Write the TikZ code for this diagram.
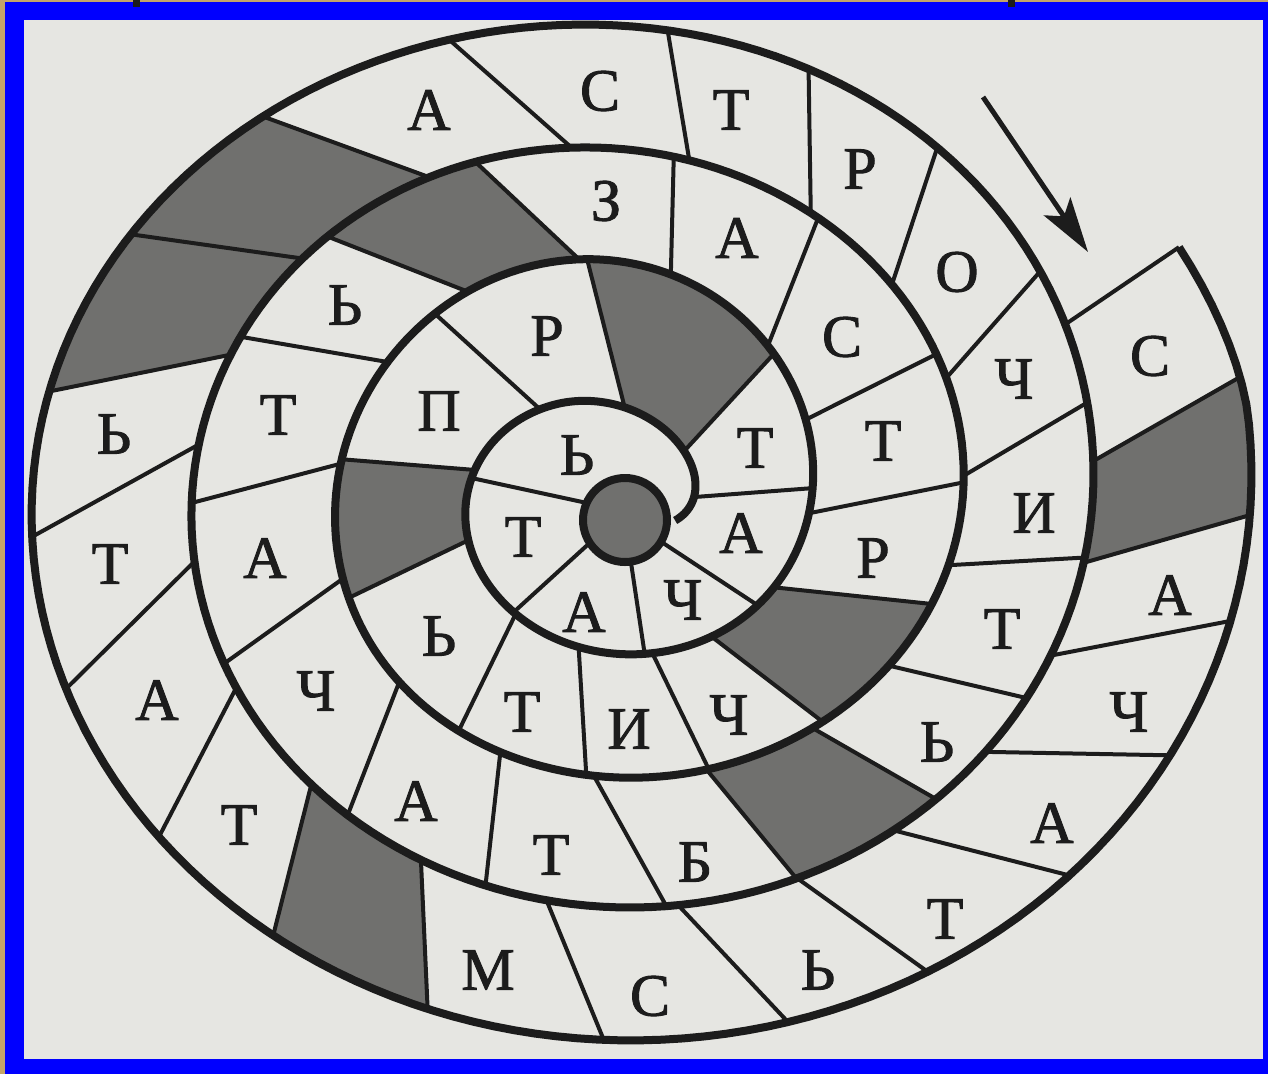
\documentclass[tikz,border=0pt]{standalone}
\usepackage{fontspec}
\setmainfont{Liberation Serif}
\newfontfamily\ltfont{Liberation Serif}[FakeBold=1.5]
\usetikzlibrary{arrows.meta}
\definecolor{bgc}{RGB}{230,230,226}
\definecolor{ink}{RGB}{28,28,28}
\definecolor{shd}{RGB}{112,112,110}
\definecolor{goldbg}{RGB}{196,165,105}
\definecolor{frameblue}{RGB}{0,0,255}
% residual corrections of the hand-drawn spiral (cosine interpolation)
\pgfmathdeclarefunction{resa}{1}{%
  \begingroup
  \pgfmathtruncatemacro\myai{max(0,min(7,floor((#1)/180)))}%
  \pgfmathtruncatemacro\myaj{\myai+1}%
  \pgfmathsetmacro\myaf{max(0,min(1,(#1)/180-\myai))}%
  \pgfmathsetmacro\myaw{(1-cos(180*\myaf))/2}%
  \pgfmathsetmacro\myaA{{0,3.2,-5.1,-8.3,3.4,-6.9,-9.2,10.5,6.3}[\myai]}%
  \pgfmathsetmacro\myaB{{0,3.2,-5.1,-8.3,3.4,-6.9,-9.2,10.5,6.3}[\myaj]}%
  \pgfmathparse{\myaA*(1-\myaw)+\myaB*\myaw}%
  \pgfmathsmuggle\pgfmathresult
  \endgroup}
\pgfmathdeclarefunction{resb}{1}{%
  \begingroup
  \pgfmathtruncatemacro\mybi{max(0,min(6,floor(((#1)-90)/180)))}%
  \pgfmathtruncatemacro\mybj{\mybi+1}%
  \pgfmathsetmacro\mybf{max(0,min(1,((#1)-90)/180-\mybi))}%
  \pgfmathsetmacro\mybw{(1-cos(180*\mybf))/2}%
  \pgfmathsetmacro\mybA{{0.8,2.1,14.4,-3.3,-3,-2.7,-9.4,0.9}[\mybi]}%
  \pgfmathsetmacro\mybB{{0.8,2.1,14.4,-3.3,-3,-2.7,-9.4,0.9}[\mybj]}%
  \pgfmathparse{\mybA*(1-\mybw)+\mybB*\mybw}%
  \pgfmathsmuggle\pgfmathresult
  \endgroup}
\pgfmathdeclarefunction{spa}{1}{\pgfmathparse{66.5+0.396*(#1)+20*max(0,1-(#1)/120)+resa(#1)-25*max(0,((#1)-1448)/18)*sqrt(max(0,((#1)-1448)/18))}}
\pgfmathdeclarefunction{spb}{1}{\pgfmathparse{58.8+0.3595*(#1)+resb(#1)}}
\pgfmathdeclarefunction{spx}{1}{\pgfmathparse{608+spa(#1)*cos(#1)}}
\pgfmathdeclarefunction{spy}{1}{\pgfmathparse{495-spb(#1)*sin(#1)}}
\newcommand\mySh[4]{\fill[shd] plot[domain=#1:#2,samples=16] ({spx(\x)},{spy(\x)}) -- plot[domain=#4:#3,samples=16] ({spx(\x)},{spy(\x)}) -- cycle;}
\newcommand\myDiv[2]{\draw[divline] ({spx(#1)},{spy(#1)}) -- ({spx(#2)},{spy(#2)});}
\newcommand\myCDiv[2]{\draw[divline] ({625+42*cos(#1)},{520-42*sin(#1)}) -- ({spx(#2)},{spy(#2)});}
\tikzset{
  spiralline/.style={draw=ink, line width=8pt, line join=round},
  divline/.style={draw=ink, line width=4pt},
  lt/.style={text=ink, inner sep=0pt, font=\ltfont\fontsize{60}{60}\selectfont},
}
\begin{document}
\begin{tikzpicture}[x=1pt,y=-1pt]
\useasboundingbox (0,0) rectangle (1268,1074);
\fill[goldbg] (0,0) rectangle (1268,1074);
\fill[frameblue] (5,2) rectangle (1268,1074);
\fill[bgc] (24,20) rectangle (1263,1059);
\fill[ink] (133,0) rectangle (140,7);
\fill[ink] (1008,0) rectangle (1015,7);
% shaded cells
\mySh{37}{81}{401}{455}
\mySh{168}{200}{532}{563}
\mySh{304.3}{329.6}{670.1}{699.2}
\mySh{456.9}{484.1}{829.8}{854.6}
\mySh{647.8}{668}{1014.2}{1034.6}
\mySh{837}{859.6}{1208.7}{1228.1}
\mySh{859.6}{877.8}{1228.1}{1248.1}
\mySh{946.9}{964.9}{1315.9}{1332.6}
\mySh{1071.1}{1084.4}{1438}{1451.7}
% centre disc
\draw[ink, line width=8pt, fill=shd] (625,520) circle[radius=42];
% dividers next to the disc
\myCDiv{156}{172}
\myCDiv{213}{234}
\myCDiv{278}{282}
\myCDiv{329}{322}
% dividers across the strip
\myDiv{-2}{362}
\myDiv{37}{401}
\myDiv{81}{455}
\myDiv{125}{493}
\myDiv{168}{532}
\myDiv{200}{563}
\myDiv{235}{600}
\myDiv{260}{626}
\myDiv{284.5}{648.2}
\myDiv{304.3}{670.1}
\myDiv{329.6}{699.2}
\myDiv{354.6}{722.3}
\myDiv{381.4}{745.8}
\myDiv{403.6}{775.9}
\myDiv{434.3}{800.1}
\myDiv{456.9}{829.8}
\myDiv{484.1}{854.6}
\myDiv{508.1}{874.7}
\myDiv{533}{901.2}
\myDiv{558.6}{925.7}
\myDiv{584.2}{953.4}
\myDiv{609.2}{974}
\myDiv{627.4}{997.4}
\myDiv{647.8}{1014.2}
\myDiv{668}{1034.6}
\myDiv{685.6}{1052}
\myDiv{706.9}{1071.8}
\myDiv{723.5}{1092}
\myDiv{741.3}{1109.8}
\myDiv{759.8}{1129.6}
\myDiv{777.3}{1147.2}
\myDiv{797.7}{1163.5}
\myDiv{815.4}{1187.1}
\myDiv{837}{1208.7}
\myDiv{859.6}{1228.1}
\myDiv{877.8}{1248.1}
\myDiv{892.3}{1264.7}
\myDiv{910}{1282}
\myDiv{929.6}{1300.6}
\myDiv{946.9}{1315.9}
\myDiv{964.9}{1332.6}
\myDiv{982.1}{1349.6}
\myDiv{998.9}{1367}
\myDiv{1014.3}{1381}
\myDiv{1027.9}{1397.4}
\myDiv{1043.3}{1412.7}
\myDiv{1058.3}{1427.3}
\myDiv{1071.1}{1438}
\myDiv{1084.4}{1451.7}
\myDiv{1102.4}{1465}
% the spiral
\draw[spiralline] plot[domain=-32:1465, samples=750] ({spx(\x)},{spy(\x)});
% letters
\node[lt] (o1) at (1150,356) {С};
\node[lt] (o2) at (1170,595) {А};
\node[lt] (o3) at (1129,712) {Ч};
\node[lt] (o4) at (1052,823) {А};
\node[lt] (o5) at (945,919) {Т};
\node[lt] (o6) at (818,970) {Ь};
\node[lt] (o7) at (650,996) {С};
\node[lt] (o8) at (488,970) {М};
\node[lt] (o9) at (239,825) {Т};
\node[lt] (o10) at (157,700) {А};
\node[lt] (o11) at (110,564) {Т};
\node[lt] (o12) at (114,434) {Ь};
\node[lt] (o13) at (429,110) {А};
\node[lt] (o14) at (600,91) {С};
\node[lt] (o15) at (731,110) {Т};
\node[lt] (o16) at (860,169) {Р};
\node[lt] (o17) at (957,272) {О};
\node[lt] (o18) at (1014,379) {Ч};
\node[lt] (o19) at (1034,513) {И};
\node[lt] (o20) at (1002,629) {Т};
\node[lt] (o21) at (937,742) {Ь};
\node[lt] (m1) at (695,862) {Б};
\node[lt] (m2) at (551,855) {Т};
\node[lt] (m3) at (416,801) {А};
\node[lt] (m4) at (316,691) {Ч};
\node[lt] (m5) at (265,558) {А};
\node[lt] (m6) at (278,415) {Т};
\node[lt] (m7) at (345,305) {Ь};
\node[lt] (m8) at (606,201) {З};
\node[lt] (m9) at (737,238) {А};
\node[lt] (m10) at (842,337) {С};
\node[lt] (m11) at (883,441) {Т};
\node[lt] (m12) at (873,558) {Р};
\node[lt] (n1) at (729,715) {Ч};
\node[lt] (n2) at (629,729) {И};
\node[lt] (n3) at (522,712) {Т};
\node[lt] (n4) at (439,636) {Ь};
\node[lt] (n5) at (439,411) {П};
\node[lt] (n6) at (547,336) {Р};
\node[lt] (n7) at (755,448) {Т};
\node[lt] (n8) at (741,533) {А};
\node[lt] (c1) at (683,600) {Ч};
\node[lt] (c2) at (584,612) {А};
\node[lt] (c3) at (523,537) {Т};
\node[lt] (c4) at (577,455) {Ь};
% arrow
\coordinate (arrS) at (983,97);
\coordinate (arrE) at (1088,252);
\draw[ink, line width=5pt, -{Stealth[length=55pt,width=32pt,inset=12pt]}] (arrS) -- (arrE);
\end{tikzpicture}
\end{document}
